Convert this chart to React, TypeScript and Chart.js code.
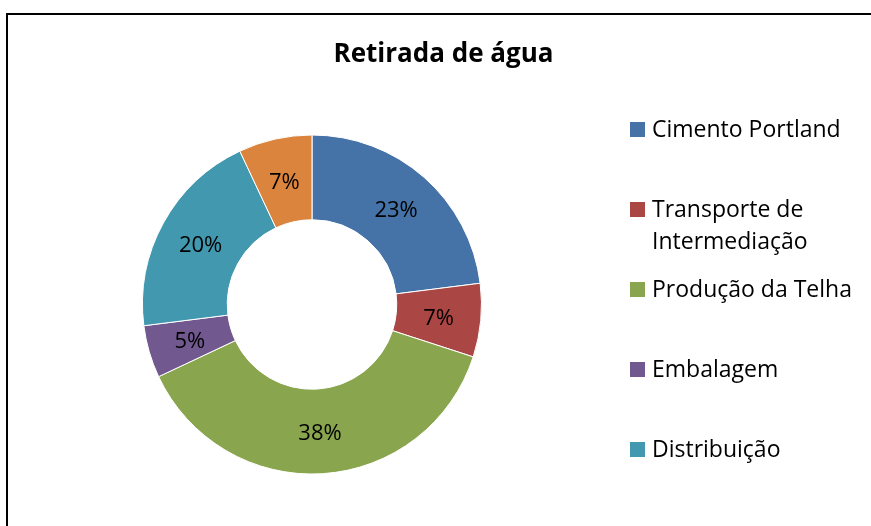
import React, { useEffect, useRef } from "react";
import { Chart, registerables } from "chart.js";

Chart.register(...registerables);

const title = "Retirada de água";
const categories = [
  "Cimento Portland",
  "Transporte de Intermediação",
  "Produção da Telha",
  "Embalagem",
  "Distribuição",
  "Disposição Final",
];
const values = [23, 7, 38, 5, 20, 7];
const colors = ["#4572A7", "#AA4643", "#89A54E", "#71588F", "#4198AF", "#DB843D"];

const FONT = "'Open Sans', sans-serif";

const overlayPlugin = {
  id: "overlay",
  afterDatasetsDraw(chart: any) {
    const ctx = chart.ctx;
    const meta = chart.getDatasetMeta(0);
    const total = values.reduce((a, b) => a + b, 0);
    ctx.save();
    ctx.fillStyle = "#000";
    ctx.textAlign = "center";
    ctx.textBaseline = "middle";
    ctx.font = `22px ${FONT}`;
    meta.data.forEach((arc: any, i: number) => {
      const p = arc.tooltipPosition();
      const pct = Math.round((values[i] / total) * 100) + "%";
      ctx.fillText(pct, p.x, p.y + 2);
    });
    ctx.restore();
  },
  afterDraw(chart: any) {
    const ctx = chart.ctx;
    ctx.save();
    // title
    ctx.fillStyle = "#000";
    ctx.textAlign = "center";
    ctx.textBaseline = "middle";
    ctx.font = `bold 26px ${FONT}`;
    ctx.fillText(title, chart.width / 2, 40);
    // legend
    ctx.textAlign = "left";
    ctx.font = `23px ${FONT}`;
    const maxW = 215;
    categories.forEach((cat, i) => {
      const y = 114 + i * 80;
      if (y + 12 > chart.height) return; // entry does not fit in the frame
      ctx.fillStyle = colors[i];
      ctx.fillRect(622, y - 7, 15, 15);
      ctx.fillStyle = "#000";
      const words = cat.split(" ");
      const lines: string[] = [];
      let cur = "";
      words.forEach((w) => {
        const t = cur ? cur + " " + w : w;
        if (ctx.measureText(t).width > maxW && cur) {
          lines.push(cur);
          cur = w;
        } else cur = t;
      });
      if (cur) lines.push(cur);
      lines.forEach((ln, j) => ctx.fillText(ln, 644, y + 1 + j * 32));
    });
    ctx.restore();
  },
};

export default function App() {
  const ref = useRef<HTMLCanvasElement>(null);
  useEffect(() => {
    if (!ref.current) return;
    const chart = new Chart(ref.current, {
      type: "doughnut",
      data: {
        labels: categories,
        datasets: [
          {
            data: values,
            backgroundColor: colors,
            borderColor: "#ffffff",
            borderWidth: 1,
          },
        ],
      },
      options: {
        animation: false,
        responsive: false,
        cutout: "50%",
        layout: { padding: { left: 134, right: 397, top: 119, bottom: 51 } },
        plugins: {
          legend: { display: false },
          title: { display: false },
          tooltip: { enabled: false },
        },
      },
      plugins: [overlayPlugin],
    });
    return () => chart.destroy();
  }, []);
  return (
    <div
      style={{
        position: "fixed",
        left: 6,
        top: 13,
        borderLeft: "2px solid #000",
        borderTop: "2px solid #000",
        background: "#fff",
        width: 900,
        height: 560,
      }}
    >
      <canvas ref={ref} width={871} height={511} style={{ display: "block", width: 871, height: 511 }} />
    </div>
  );
}
